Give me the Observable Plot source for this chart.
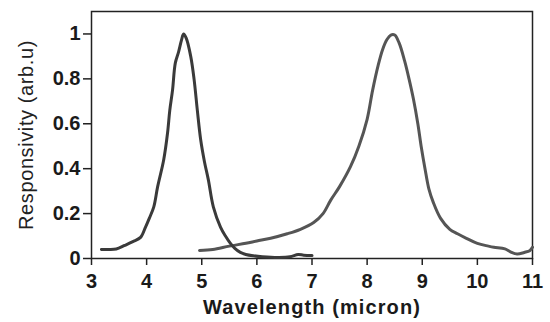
<!DOCTYPE html>
<html>
<head>
<meta charset="utf-8">
<script src="https://cdn.jsdelivr.net/npm/d3@7"></script>
<script src="https://cdn.jsdelivr.net/npm/@observablehq/plot@0.6"></script>
<style>
  html, body { margin: 0; padding: 0; background: #fff; }
  svg { font-family: "Liberation Sans", Arial, sans-serif; }
</style>
</head>
<body>
<div id="chart"></div>
<script>
const xTicks = [3, 4, 5, 6, 7, 8, 9, 10, 11];
const yTicks = [0, 0.2, 0.4, 0.6, 0.8, 1];
const yTickLabels = ["0", "0.2", "0.4", "0.6", "0.8", "1"];
const xLabel = "Wavelength (micron)";
const yLabel = "Responsivity (arb.u)";

const mwirX = [3.18, 3.3, 3.45, 3.6, 3.75, 3.89, 3.98, 4.05, 4.13, 4.2, 4.31, 4.38, 4.42, 4.47, 4.52, 4.58, 4.63, 4.67, 4.72, 4.8, 4.86, 4.92, 4.98, 5.05, 5.12, 5.21, 5.34, 5.43, 5.52, 5.6, 5.7, 5.8, 5.94, 6.1, 6.4, 6.6, 6.75, 6.85, 7.0];
const mwirY = [0.04, 0.04, 0.042, 0.058, 0.075, 0.094, 0.14, 0.18, 0.23, 0.32, 0.44, 0.56, 0.66, 0.75, 0.87, 0.92, 0.97, 1.0, 0.98, 0.9, 0.8, 0.66, 0.53, 0.43, 0.35, 0.23, 0.14, 0.1, 0.067, 0.045, 0.027, 0.018, 0.012, 0.008, 0.005, 0.008, 0.018, 0.015, 0.013];

const lwirX = [4.96, 5.2, 5.5, 5.8, 6.0, 6.25, 6.55, 6.79, 7.03, 7.2, 7.34, 7.5, 7.7, 7.85, 8.0, 8.1, 8.2, 8.28, 8.36, 8.43, 8.5, 8.58, 8.68, 8.76, 8.84, 8.92, 8.98, 9.05, 9.12, 9.2, 9.33, 9.5, 9.64, 9.8, 10.0, 10.2, 10.3, 10.5, 10.6, 10.72, 10.85, 10.95, 11.0];
const lwirY = [0.036, 0.04, 0.055, 0.068, 0.078, 0.09, 0.11, 0.13, 0.16, 0.2, 0.26, 0.32, 0.41, 0.5, 0.62, 0.75, 0.86, 0.93, 0.975, 0.995, 0.995, 0.96, 0.88, 0.8, 0.71, 0.6, 0.5, 0.4, 0.31, 0.25, 0.18, 0.13, 0.11, 0.09, 0.067, 0.055, 0.05, 0.043, 0.03, 0.02, 0.027, 0.035, 0.05];

const mwir = mwirX.map((x, i) => ({x, y: mwirY[i]}));
const lwir = lwirX.map((x, i) => ({x, y: lwirY[i]}));

const chart = Plot.plot({
  width: 550,
  height: 322,
  marginLeft: 91,
  marginRight: 18,
  marginTop: 11,
  marginBottom: 64,
  x: {domain: [3, 11]},
  y: {domain: [0, 1.1]},
  marks: [
    Plot.frame({stroke: "#222", strokeWidth: 1.5}),
    Plot.axisX({ticks: xTicks, tickSize: 7, tickPadding: 8, fontSize: 20, fontWeight: "bold", fill: "#1a1a1a", stroke: "#222", strokeWidth: 1.5, label: null}),
    Plot.axisY({ticks: yTicks, tickFormat: (d) => yTickLabels[yTicks.indexOf(d)], tickSize: 8, tickPadding: 3, fontSize: 20, fontWeight: "bold", fill: "#1a1a1a", stroke: "#222", strokeWidth: 1.5, label: null}),
    Plot.line(lwir, {x: "x", y: "y", stroke: "#555", strokeWidth: 3, curve: "catmull-rom"}),
    Plot.line(mwir, {x: "x", y: "y", stroke: "#3a3a3a", strokeWidth: 3, curve: "catmull-rom"}),
    Plot.text([xLabel], {frameAnchor: "bottom", dy: 55, fontSize: 20, fontWeight: "bold", fill: "#1a1a1a", text: d => d}),
    Plot.text([yLabel], {frameAnchor: "left", textAnchor: "middle", dx: -65, rotate: -90, fontSize: 20, fill: "#222", text: d => d})
  ]
});
document.getElementById("chart").appendChild(chart);
d3.select(chart).selectAll("text").filter(function() { return this.textContent === xLabel; }).style("letter-spacing", "1.1px");
d3.select(chart).selectAll("text").filter(function() { return this.textContent === yLabel; }).style("letter-spacing", "0.6px");
</script>
</body>
</html>
